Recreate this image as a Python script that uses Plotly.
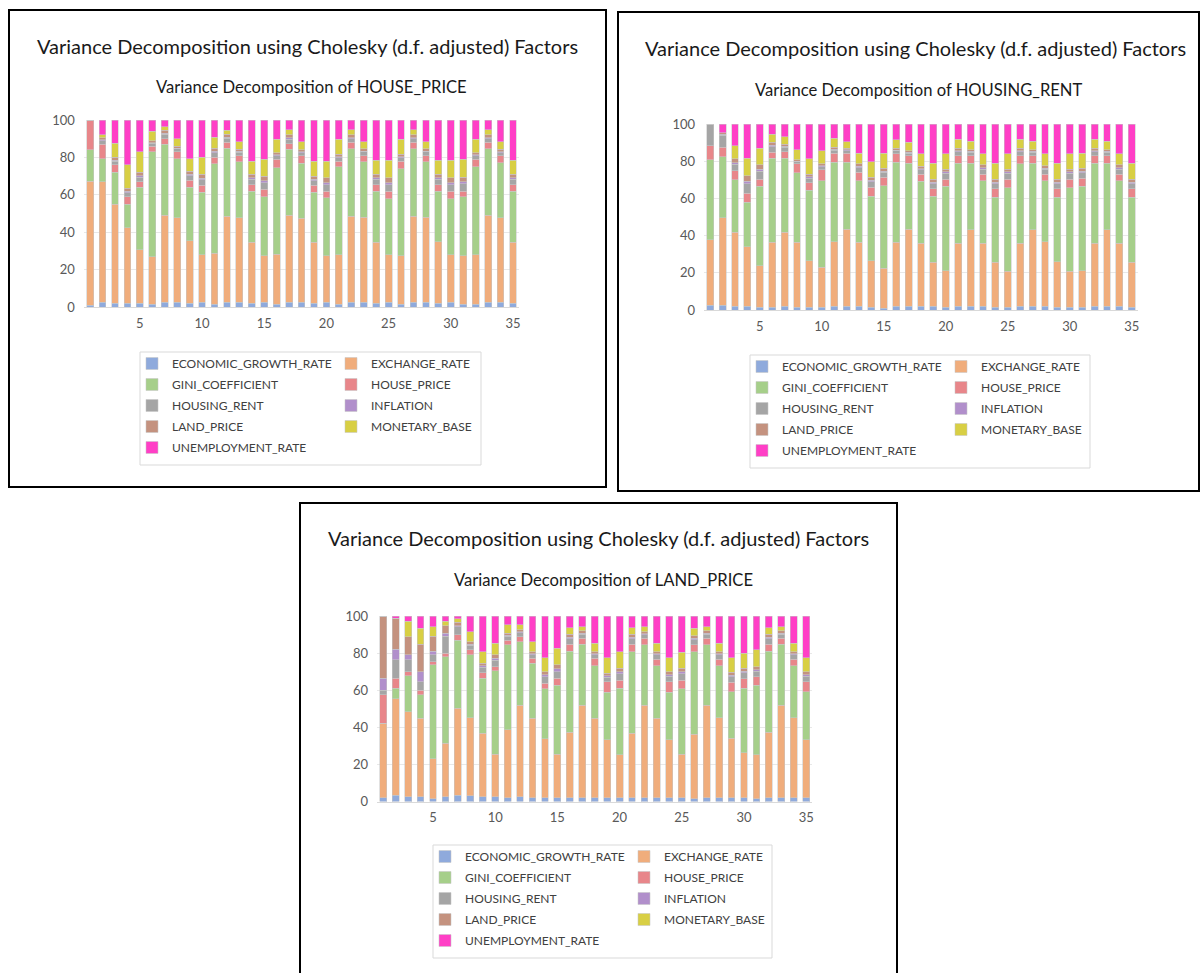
import plotly.graph_objects as go

W, H = 1201, 973

periods = list(range(1, 36))
x_tick_values = [5, 10, 15, 20, 25, 30, 35]
y_tick_values = [0, 20, 40, 60, 80, 100]

series_names = [
    "ECONOMIC_GROWTH_RATE", "EXCHANGE_RATE", "GINI_COEFFICIENT", "HOUSE_PRICE",
    "HOUSING_RENT", "INFLATION", "LAND_PRICE", "MONETARY_BASE", "UNEMPLOYMENT_RATE",
]
series_colors = [
    "#8faadc", "#f0ad7c", "#a6cf8a", "#e8868a",
    "#a5a5a5", "#b18fcb", "#c4927f", "#d8cf44", "#ff3fc6",
]

main_title = "Variance Decomposition using Cholesky (d.f. adjusted) Factors"

# Variance decomposition of HOUSE_PRICE (percent, periods 1..35)
hp_economic_growth = [1.0, 2.5, 2.0, 2.0, 2.0, 1.5, 2.5, 2.5, 2.0, 2.5, 1.5, 2.5, 2.5, 2.0, 2.5, 1.5, 2.5, 2.5, 2.0, 2.5, 1.5, 2.5, 2.5, 2.0, 2.5, 1.5, 2.5, 2.5, 2.0, 2.5, 1.5, 1.5, 2.5, 2.5, 2.0]
hp_exchange_rate = [66.3, 64.5, 53.0, 40.5, 28.5, 25.5, 46.5, 45.1, 33.4, 25.5, 27.2, 46.0, 45.1, 32.5, 25.0, 26.7, 46.5, 44.9, 32.5, 25.0, 26.5, 46.0, 45.5, 32.5, 25.5, 26.0, 46.0, 45.5, 33.0, 25.5, 26.0, 26.5, 46.5, 45.1, 32.5]
hp_gini = [16.7, 12.4, 17.0, 12.5, 33.5, 56.0, 38.0, 31.8, 28.6, 33.4, 48.0, 36.5, 30.0, 27.5, 31.5, 46.3, 35.4, 29.4, 26.9, 30.8, 47.0, 36.2, 29.6, 27.5, 29.8, 46.5, 36.2, 29.6, 27.0, 29.8, 31.5, 47.0, 35.7, 29.6, 27.5]
hp_house_price = [16.0, 7.6, 4.0, 4.0, 3.0, 3.0, 3.0, 3.6, 3.7, 3.6, 3.3, 3.0, 3.4, 3.5, 4.0, 4.5, 3.0, 4.0, 3.6, 3.7, 3.0, 3.3, 3.4, 3.5, 4.2, 4.0, 3.3, 3.4, 3.5, 4.2, 3.0, 4.0, 3.3, 3.6, 3.5]
hp_housing_rent = [0.0, 2.0, 2.0, 2.2, 2.5, 1.5, 2.3, 1.5, 2.5, 3.0, 2.5, 2.3, 1.7, 2.8, 3.5, 1.8, 2.3, 1.6, 2.5, 3.5, 1.9, 2.0, 1.9, 2.8, 3.5, 1.9, 2.0, 1.9, 2.8, 3.5, 3.8, 1.8, 2.0, 1.8, 2.8]
hp_inflation = [0.0, 0.5, 0.6, 0.7, 0.8, 0.4, 0.6, 0.4, 0.8, 0.9, 0.8, 0.6, 0.5, 0.8, 1.0, 0.5, 0.7, 0.5, 0.8, 1.0, 0.5, 0.6, 0.5, 0.8, 1.0, 0.5, 0.6, 0.5, 0.8, 1.0, 1.1, 0.5, 0.6, 0.5, 0.8]
hp_land_price = [0.0, 1.0, 1.4, 1.6, 1.7, 1.1, 1.6, 1.1, 1.7, 2.1, 1.7, 1.6, 1.2, 1.9, 2.5, 1.3, 1.6, 1.1, 1.7, 2.5, 1.3, 1.4, 1.3, 1.9, 2.5, 1.3, 1.4, 1.3, 1.9, 2.5, 2.6, 1.3, 1.4, 1.3, 1.9]
hp_monetary_base = [0.0, 1.5, 7.5, 12.5, 11.0, 5.0, 2.0, 4.0, 6.7, 9.0, 5.7, 2.1, 4.1, 7.0, 9.0, 7.2, 2.8, 4.5, 8.0, 9.0, 8.1, 2.8, 3.8, 7.5, 9.5, 8.1, 2.8, 3.8, 7.5, 9.5, 9.5, 7.2, 2.8, 4.1, 7.5]
hp_unemployment = [0.0, 8.0, 12.5, 24.0, 17.0, 6.0, 3.5, 10.0, 20.6, 20.0, 9.3, 5.4, 11.5, 22.0, 21.0, 10.2, 5.2, 11.5, 22.0, 22.0, 10.2, 5.2, 11.5, 21.5, 21.5, 10.2, 5.2, 11.5, 21.5, 21.5, 21.0, 10.2, 5.2, 11.5, 21.5]

# Variance decomposition of HOUSING_RENT
hr_economic_growth = [2.5, 2.5, 2.0, 2.0, 1.5, 1.5, 2.0, 1.5, 1.5, 1.5, 2.0, 2.0, 2.0, 1.5, 1.0, 2.0, 2.0, 2.0, 2.0, 1.5, 2.0, 2.0, 2.0, 1.5, 1.5, 2.0, 2.0, 2.0, 1.5, 1.5, 1.5, 2.0, 2.0, 2.0, 1.5]
hr_exchange_rate = [35.3, 47.0, 39.8, 32.0, 22.3, 34.9, 39.8, 34.9, 25.0, 21.4, 34.7, 41.5, 34.4, 25.0, 21.4, 34.4, 41.5, 34.0, 23.6, 19.6, 33.8, 41.2, 34.0, 24.1, 19.3, 33.8, 41.2, 34.7, 24.4, 19.3, 19.6, 34.0, 41.2, 34.0, 24.1]
hr_gini = [43.0, 32.9, 28.3, 23.9, 42.7, 45.1, 39.7, 37.3, 38.0, 46.6, 42.7, 35.9, 33.1, 34.6, 44.4, 43.0, 35.5, 33.2, 35.5, 45.4, 43.1, 35.8, 33.5, 35.0, 44.8, 42.7, 35.8, 32.8, 34.7, 44.8, 45.4, 43.0, 35.8, 33.5, 35.0]
hr_house_price = [7.6, 5.1, 4.8, 4.8, 3.9, 3.3, 3.6, 4.8, 3.8, 5.8, 4.8, 4.8, 4.5, 4.8, 4.5, 4.5, 4.0, 3.9, 4.0, 3.9, 4.1, 4.0, 3.6, 4.5, 4.8, 4.5, 4.0, 3.6, 4.5, 4.8, 4.3, 4.0, 4.0, 3.6, 4.5]
hr_housing_rent = [11.6, 6.5, 3.5, 5.2, 4.2, 2.9, 2.3, 1.3, 2.6, 1.8, 1.8, 1.5, 2.5, 3.0, 2.7, 1.7, 1.4, 2.3, 2.9, 3.0, 2.1, 1.8, 2.7, 2.9, 3.0, 2.1, 1.8, 2.5, 2.9, 3.0, 3.0, 2.1, 1.8, 2.7, 2.9]
hr_inflation = [0.0, 0.4, 0.9, 1.4, 1.1, 0.8, 0.6, 0.3, 0.7, 0.5, 0.5, 0.4, 0.7, 0.8, 0.7, 0.4, 0.4, 0.6, 0.8, 0.8, 0.6, 0.5, 0.7, 0.8, 0.8, 0.6, 0.5, 0.7, 0.8, 0.8, 0.8, 0.6, 0.5, 0.7, 0.8]
hr_land_price = [0.0, 0.8, 1.9, 2.9, 2.3, 1.6, 1.2, 0.7, 1.5, 0.9, 1.0, 0.8, 1.3, 1.6, 1.5, 0.9, 0.7, 1.2, 1.6, 1.6, 1.2, 0.9, 1.5, 1.6, 1.6, 1.2, 0.9, 1.3, 1.6, 1.6, 1.6, 1.2, 0.9, 1.5, 1.6]
hr_monetary_base = [0.0, 0.0, 7.2, 9.3, 8.9, 4.5, 4.0, 5.4, 8.1, 7.2, 4.8, 3.6, 5.9, 8.4, 8.2, 4.7, 4.7, 6.7, 8.6, 8.1, 5.0, 4.5, 5.9, 8.6, 8.1, 5.0, 4.5, 6.3, 8.6, 8.1, 8.2, 5.0, 4.5, 5.9, 8.6]
hr_unemployment = [0.0, 4.8, 11.6, 18.5, 13.1, 5.4, 6.8, 13.8, 18.8, 14.3, 7.7, 9.5, 15.6, 20.3, 15.6, 8.4, 9.8, 16.1, 21.0, 16.1, 8.1, 9.3, 16.1, 21.0, 16.1, 8.1, 9.3, 16.1, 21.0, 16.1, 15.6, 8.1, 9.3, 16.1, 21.0]

# Variance decomposition of LAND_PRICE
lp_economic_growth = [2.0, 3.5, 2.5, 2.5, 1.5, 2.5, 3.5, 3.0, 2.5, 2.5, 2.0, 2.5, 2.0, 2.0, 2.0, 2.0, 2.0, 2.0, 2.0, 2.0, 2.0, 2.0, 2.0, 2.0, 2.0, 1.5, 2.0, 2.0, 2.0, 2.0, 1.5, 2.0, 2.0, 2.0, 2.0]
lp_exchange_rate = [40.2, 51.8, 46.0, 42.4, 21.5, 28.9, 46.8, 42.2, 34.3, 23.0, 36.6, 49.5, 42.9, 31.8, 23.5, 35.2, 50.0, 42.9, 31.2, 23.1, 34.8, 50.0, 42.9, 31.2, 23.5, 34.8, 50.0, 43.2, 32.1, 24.4, 23.6, 35.3, 50.0, 43.2, 31.2]
lp_gini = [0.0, 5.7, 19.2, 12.6, 50.6, 46.7, 36.7, 33.8, 29.6, 44.9, 45.8, 34.2, 29.6, 26.9, 37.3, 43.9, 32.7, 28.2, 25.7, 35.9, 44.0, 32.4, 28.2, 25.7, 35.2, 44.5, 32.4, 28.0, 25.1, 34.6, 37.7, 43.8, 32.7, 28.0, 26.0]
lp_house_price = [15.3, 5.4, 2.3, 2.5, 1.8, 1.8, 2.8, 2.7, 3.1, 2.3, 2.6, 2.7, 2.7, 3.0, 3.6, 3.6, 3.3, 4.1, 5.7, 4.5, 3.9, 3.6, 3.7, 5.7, 4.8, 3.6, 3.6, 3.6, 5.1, 5.1, 4.5, 3.6, 3.3, 3.6, 5.4]
lp_housing_rent = [2.5, 9.9, 6.3, 4.6, 3.6, 9.3, 4.5, 2.6, 2.8, 3.5, 2.1, 2.0, 2.0, 3.5, 3.6, 3.0, 2.2, 2.0, 2.5, 3.5, 3.0, 2.0, 2.2, 3.0, 3.5, 2.8, 2.2, 2.2, 3.0, 3.2, 3.0, 3.0, 2.2, 2.2, 3.0]
lp_inflation = [6.4, 5.7, 2.7, 5.4, 2.0, 1.4, 0.5, 0.6, 0.8, 1.0, 0.5, 0.5, 0.5, 1.0, 1.5, 0.8, 0.6, 0.5, 0.7, 1.0, 0.8, 0.5, 0.6, 0.8, 1.0, 0.7, 0.6, 0.6, 0.8, 0.9, 0.8, 0.8, 0.6, 0.6, 0.8]
lp_land_price = [33.6, 16.7, 9.9, 14.7, 8.2, 4.1, 1.8, 1.1, 1.4, 1.8, 1.1, 1.1, 1.1, 1.8, 2.1, 1.6, 1.2, 1.1, 1.3, 1.8, 1.6, 1.1, 1.2, 1.6, 1.8, 1.5, 1.2, 1.2, 1.6, 1.6, 1.6, 1.6, 1.2, 1.2, 1.6]
lp_monetary_base = [0.0, 0.0, 8.4, 8.7, 5.1, 2.5, 1.8, 5.6, 6.3, 6.3, 4.5, 2.7, 5.4, 7.6, 9.0, 3.6, 2.3, 4.5, 8.5, 9.0, 3.6, 2.7, 4.5, 7.6, 8.6, 4.0, 2.3, 4.5, 7.9, 8.1, 9.0, 3.6, 2.3, 4.5, 7.6]
lp_unemployment = [0.0, 1.3, 2.7, 6.6, 5.7, 2.8, 1.6, 8.4, 19.2, 14.7, 4.8, 4.8, 13.8, 22.4, 17.4, 6.3, 5.7, 14.7, 22.4, 19.2, 6.3, 5.7, 14.7, 22.4, 19.6, 6.6, 5.7, 14.7, 22.4, 20.1, 18.3, 6.3, 5.7, 14.7, 22.4]

panel_data = [
    [hp_economic_growth, hp_exchange_rate, hp_gini, hp_house_price, hp_housing_rent,
     hp_inflation, hp_land_price, hp_monetary_base, hp_unemployment],
    [hr_economic_growth, hr_exchange_rate, hr_gini, hr_house_price, hr_housing_rent,
     hr_inflation, hr_land_price, hr_monetary_base, hr_unemployment],
    [lp_economic_growth, lp_exchange_rate, lp_gini, lp_house_price, lp_housing_rent,
     lp_inflation, lp_land_price, lp_monetary_base, lp_unemployment],
]
panel_subtitles = [
    "Variance Decomposition of HOUSE_PRICE",
    "Variance Decomposition of HOUSING_RENT",
    "Variance Decomposition of LAND_PRICE",
]

# Page geometry, in pixels of the 1201x973 page
panel_layout = [
    dict(box=(9, 10, 606, 487), plot=(83.9, 120, 519.2, 307), title=(307, 46), sub=(311, 87),
         legend_box=(140, 352, 481, 465), legend_x=(132, 331)),
    dict(box=(618, 12, 1199, 491), plot=(704.0, 124, 1138.0, 310), title=(915, 48), sub=(919, 90),
         legend_box=(750, 355, 1090, 468), legend_x=(742, 941)),
    dict(box=(300, 503, 897, 990), plot=(377.0, 616, 812.4, 801.5), title=(598, 538), sub=(603, 580),
         legend_box=(433, 845, 772, 958), legend_x=(425, 624)),
]


def fx(px):
    return px / W


def fy(py):
    return 1 - py / H


FONT = "Lato, 'Open Sans', sans-serif"
fig = go.Figure()
shapes = []
annotations = []
layout_extra = {}

left_column = {0, 2, 4, 6, 8}

for p, (series, geo) in enumerate(zip(panel_data, panel_layout)):
    axis_id = "" if p == 0 else str(p + 1)
    leg_left = "legend" if p == 0 else f"legend{2 * p + 1}"
    leg_right = f"legend{2 * p + 2}"
    for i, (name, color, values) in enumerate(zip(series_names, series_colors, series)):
        fig.add_trace(go.Bar(
            x=periods, y=values, name=name,
            marker=dict(color=color, line=dict(color="rgba(200,200,200,0.9)", width=0.6)),
            xaxis="x" + axis_id, yaxis="y" + axis_id,
            legend=leg_left if i in left_column else leg_right,
            legendgroup=f"p{p}_{name}",
            hoverinfo="skip",
        ))

    x0, y0, x1, y1 = geo["plot"]
    layout_extra["xaxis" + axis_id] = dict(
        domain=[fx(x0), fx(x1)], anchor="y" + axis_id, range=[0.5, 35.5],
        tickmode="array", tickvals=x_tick_values, ticks="", showgrid=False,
        showline=True, linecolor="#d9d9d9", linewidth=1, zeroline=False,
        tickfont=dict(family=FONT, size=13, color="#595959"), ticklabelstandoff=4,
    )
    layout_extra["yaxis" + axis_id] = dict(
        domain=[fy(y1), fy(y0)], anchor="x" + axis_id, range=[0, 100],
        tickmode="array", tickvals=y_tick_values, ticks="", showgrid=True,
        gridcolor="#e8e8e8", gridwidth=1, zeroline=False, showline=False,
        tickfont=dict(family=FONT, size=13, color="#595959"), ticklabelstandoff=8,
    )

    # legends: two columns, each a real plotly legend
    lb = geo["legend_box"]
    for key, lx in ((leg_left, geo["legend_x"][0]), (leg_right, geo["legend_x"][1])):
        layout_extra[key] = dict(
            x=fx(lx), y=fy(lb[1] - 3), xanchor="left", yanchor="top",
            xref="paper", yref="paper", orientation="v", traceorder="grouped",
            tracegroupgap=2, bgcolor="rgba(0,0,0,0)", borderwidth=0,
            font=dict(family=FONT, size=12, color="#404040"), itemwidth=30,
        )
    shapes.append(dict(type="rect", xref="paper", yref="paper",
                       x0=fx(lb[0]), x1=fx(lb[2]), y0=fy(lb[3]), y1=fy(lb[1]),
                       line=dict(color="#d9d9d9", width=1), layer="below"))

    bx0, by0, bx1, by1 = geo["box"]
    shapes.append(dict(type="rect", xref="paper", yref="paper",
                       x0=fx(bx0), x1=fx(bx1), y0=fy(by1), y1=fy(by0),
                       line=dict(color="black", width=2)))

    annotations.append(dict(text=main_title, x=fx(geo["title"][0]), y=fy(geo["title"][1]),
                            xref="paper", yref="paper", xanchor="center", yanchor="middle",
                            showarrow=False, font=dict(family=FONT, size=20, color="#1a1a1a")))
    annotations.append(dict(text=panel_subtitles[p], x=fx(geo["sub"][0]), y=fy(geo["sub"][1]),
                            xref="paper", yref="paper", xanchor="center", yanchor="middle",
                            showarrow=False, font=dict(family=FONT, size=16.6, color="#1a1a1a")))

fig.update_layout(
    width=W, height=H, margin=dict(l=0, r=0, t=0, b=0, autoexpand=False),
    paper_bgcolor="white", plot_bgcolor="white",
    barmode="stack", bargap=0.45,
    showlegend=True, shapes=shapes, annotations=annotations,
    **layout_extra,
)

fig.write_html("out.html")
